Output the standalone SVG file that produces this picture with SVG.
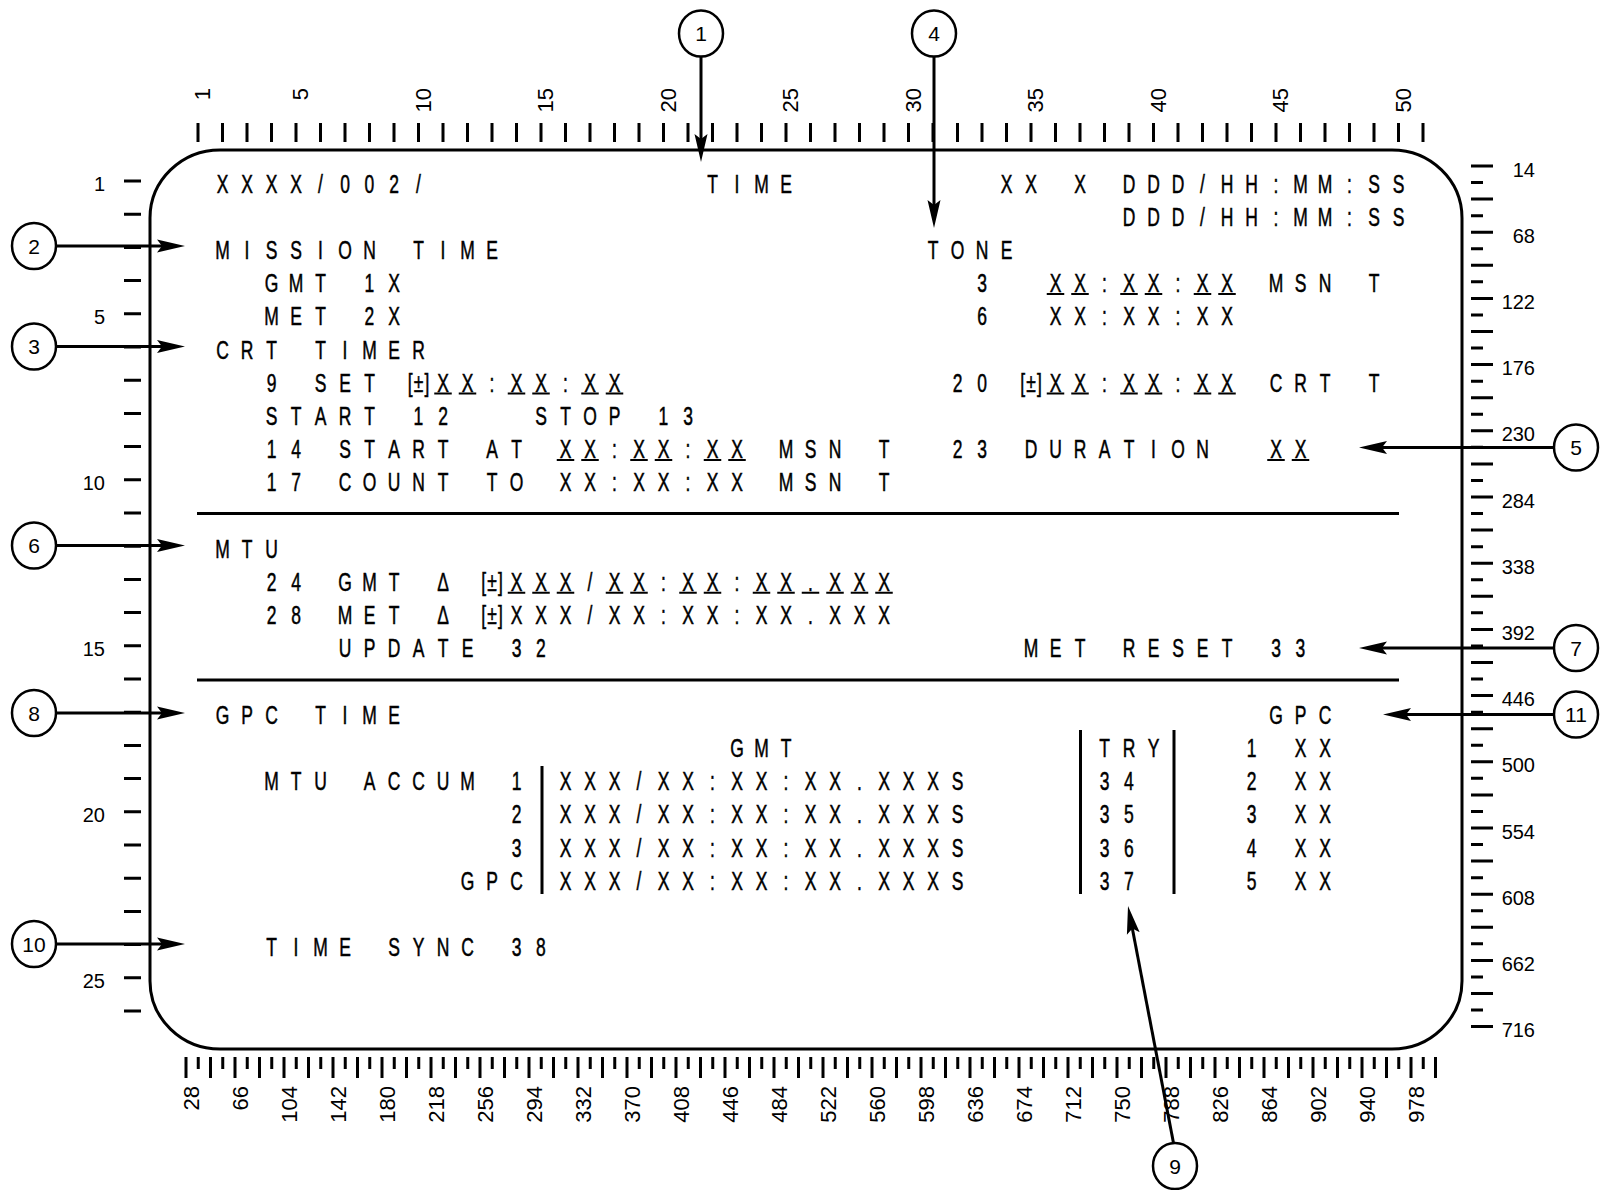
<svg xmlns="http://www.w3.org/2000/svg" width="1601" height="1190" viewBox="0 0 1601 1190">
<style>
.scr text{font-family:"Liberation Sans",Arial,Helvetica,sans-serif;font-size:25px;text-anchor:middle;fill:#000;stroke:#000;stroke-width:0.5}
.lbl{font-family:"Liberation Sans",Arial,Helvetica,sans-serif;font-size:20px;fill:#000}
.rot{font-family:"Liberation Sans",Arial,Helvetica,sans-serif;font-size:22px;fill:#000;text-anchor:end}
.num{font-family:"Liberation Sans",Arial,Helvetica,sans-serif;font-size:21px;fill:#000;text-anchor:middle}
.ln{stroke:#000;stroke-width:3;fill:none}
.ul{stroke:#000;stroke-width:2;fill:none}
.con{stroke:#000;stroke-width:3;fill:none;marker-end:url(#ah)}
.cir{stroke:#000;stroke-width:2.5;fill:#fff}
</style>
<defs>
<marker id="ah" viewBox="0 0 28 14" refX="18" refY="7" markerWidth="28" markerHeight="14" markerUnits="userSpaceOnUse" orient="auto">
<path d="M0,0.5 L28,7 L0,13.5 L5,7 Z" fill="#000"/>
</marker>
</defs>
<rect width="1601" height="1190" fill="#fff"/>
<g id="screen">
<rect class="ln" x="150" y="150" width="1312" height="899" rx="70" ry="68"/>
<path class="ln" d="M197 513.5H1399M197 680H1399M542 766V894M1080.5 730V894M1174 730V894"/>
<g id="ruler-top">
<path class="ln" d="M198 123V142M222.5 123V142M247 123V142M271.5 123V142M296 123V142M320.5 123V142M345 123V142M369.5 123V142M394 123V142M418.5 123V142M443 123V142M467.5 123V142M492 123V142M516.5 123V142M541 123V142M565.5 123V142M590 123V142M614.5 123V142M639 123V142M663.5 123V142M688 123V142M712.5 123V142M737 123V142M761.5 123V142M786 123V142M810.5 123V142M835 123V142M859.5 123V142M884 123V142M908.5 123V142M933 123V142M957.5 123V142M982 123V142M1006.5 123V142M1031 123V142M1055.5 123V142M1080 123V142M1104.5 123V142M1129 123V142M1153.5 123V142M1178 123V142M1202.5 123V142M1227 123V142M1251.5 123V142M1276 123V142M1300.5 123V142M1325 123V142M1349.5 123V142M1374 123V142M1398.5 123V142M1423 123V142"/>
<text class="rot" transform="translate(210 88) rotate(-90)">1</text>
<text class="rot" transform="translate(308 88) rotate(-90)">5</text>
<text class="rot" transform="translate(430.5 88) rotate(-90)">10</text>
<text class="rot" transform="translate(553 88) rotate(-90)">15</text>
<text class="rot" transform="translate(675.5 88) rotate(-90)">20</text>
<text class="rot" transform="translate(798 88) rotate(-90)">25</text>
<text class="rot" transform="translate(920.5 88) rotate(-90)">30</text>
<text class="rot" transform="translate(1043 88) rotate(-90)">35</text>
<text class="rot" transform="translate(1165.5 88) rotate(-90)">40</text>
<text class="rot" transform="translate(1288 88) rotate(-90)">45</text>
<text class="rot" transform="translate(1410.5 88) rotate(-90)">50</text>
</g>
<g id="ruler-left">
<path class="ln" d="M124 181H141M124 214.2H141M124 247.4H141M124 280.6H141M124 313.8H141M124 347H141M124 380.2H141M124 413.4H141M124 446.6H141M124 479.8H141M124 513H141M124 546.2H141M124 579.4H141M124 612.6H141M124 645.8H141M124 679H141M124 712.2H141M124 745.4H141M124 778.6H141M124 811.8H141M124 845H141M124 878.2H141M124 911.4H141M124 944.6H141M124 977.8H141M124 1011H141"/>
<text class="lbl" text-anchor="end" x="105" y="191">1</text>
<text class="lbl" text-anchor="end" x="105" y="323.8">5</text>
<text class="lbl" text-anchor="end" x="105" y="489.8">10</text>
<text class="lbl" text-anchor="end" x="105" y="655.8">15</text>
<text class="lbl" text-anchor="end" x="105" y="821.8">20</text>
<text class="lbl" text-anchor="end" x="105" y="987.8">25</text>
</g>
<g id="ruler-right">
<path class="ln" d="M1471 166H1493M1471 199.1H1493M1471 232.2H1493M1471 265.3H1493M1471 298.4H1493M1471 331.5H1493M1471 364.6H1493M1471 397.7H1493M1471 430.8H1493M1471 463.9H1493M1471 497H1493M1471 530.1H1493M1471 563.2H1493M1471 596.3H1493M1471 629.4H1493M1471 662.5H1493M1471 695.6H1493M1471 728.7H1493M1471 761.8H1493M1471 794.9H1493M1471 828H1493M1471 861.1H1493M1471 894.2H1493M1471 927.3H1493M1471 960.4H1493M1471 993.5H1493M1471 1026.6H1493"/>
<path class="ln" d="M1471 182.55H1483M1471 215.65H1483M1471 248.75H1483M1471 281.85H1483M1471 314.95H1483M1471 348.05H1483M1471 381.15H1483M1471 414.25H1483M1471 447.35H1483M1471 480.45H1483M1471 513.55H1483M1471 546.65H1483M1471 579.75H1483M1471 612.85H1483M1471 645.95H1483M1471 679.05H1483M1471 712.15H1483M1471 745.25H1483M1471 778.35H1483M1471 811.45H1483M1471 844.55H1483M1471 877.65H1483M1471 910.75H1483M1471 943.85H1483M1471 976.95H1483M1471 1010.05H1483"/>
<text class="lbl" text-anchor="end" x="1535" y="176.5">14</text>
<text class="lbl" text-anchor="end" x="1535" y="242.7">68</text>
<text class="lbl" text-anchor="end" x="1535" y="308.9">122</text>
<text class="lbl" text-anchor="end" x="1535" y="375.1">176</text>
<text class="lbl" text-anchor="end" x="1535" y="441.3">230</text>
<text class="lbl" text-anchor="end" x="1535" y="507.5">284</text>
<text class="lbl" text-anchor="end" x="1535" y="573.7">338</text>
<text class="lbl" text-anchor="end" x="1535" y="639.9">392</text>
<text class="lbl" text-anchor="end" x="1535" y="706.1">446</text>
<text class="lbl" text-anchor="end" x="1535" y="772.3">500</text>
<text class="lbl" text-anchor="end" x="1535" y="838.5">554</text>
<text class="lbl" text-anchor="end" x="1535" y="904.7">608</text>
<text class="lbl" text-anchor="end" x="1535" y="970.9">662</text>
<text class="lbl" text-anchor="end" x="1535" y="1037.1">716</text>
</g>
<g id="ruler-bottom">
<path class="ln" d="M186 1057V1078M210.5 1057V1078M235 1057V1078M259.5 1057V1078M284 1057V1078M308.5 1057V1078M333 1057V1078M357.5 1057V1078M382 1057V1078M406.5 1057V1078M431 1057V1078M455.5 1057V1078M480 1057V1078M504.5 1057V1078M529 1057V1078M553.5 1057V1078M578 1057V1078M602.5 1057V1078M627 1057V1078M651.5 1057V1078M676 1057V1078M700.5 1057V1078M725 1057V1078M749.5 1057V1078M774 1057V1078M798.5 1057V1078M823 1057V1078M847.5 1057V1078M872 1057V1078M896.5 1057V1078M921 1057V1078M945.5 1057V1078M970 1057V1078M994.5 1057V1078M1019 1057V1078M1043.5 1057V1078M1068 1057V1078M1092.5 1057V1078M1117 1057V1078M1141.5 1057V1078M1166 1057V1078M1190.5 1057V1078M1215 1057V1078M1239.5 1057V1078M1264 1057V1078M1288.5 1057V1078M1313 1057V1078M1337.5 1057V1078M1362 1057V1078M1386.5 1057V1078M1411 1057V1078M1435.5 1057V1078"/>
<path class="ln" d="M198.25 1057V1069M222.75 1057V1069M247.25 1057V1069M271.75 1057V1069M296.25 1057V1069M320.75 1057V1069M345.25 1057V1069M369.75 1057V1069M394.25 1057V1069M418.75 1057V1069M443.25 1057V1069M467.75 1057V1069M492.25 1057V1069M516.75 1057V1069M541.25 1057V1069M565.75 1057V1069M590.25 1057V1069M614.75 1057V1069M639.25 1057V1069M663.75 1057V1069M688.25 1057V1069M712.75 1057V1069M737.25 1057V1069M761.75 1057V1069M786.25 1057V1069M810.75 1057V1069M835.25 1057V1069M859.75 1057V1069M884.25 1057V1069M908.75 1057V1069M933.25 1057V1069M957.75 1057V1069M982.25 1057V1069M1006.75 1057V1069M1031.25 1057V1069M1055.75 1057V1069M1080.25 1057V1069M1104.75 1057V1069M1129.25 1057V1069M1153.75 1057V1069M1178.25 1057V1069M1202.75 1057V1069M1227.25 1057V1069M1251.75 1057V1069M1276.25 1057V1069M1300.75 1057V1069M1325.25 1057V1069M1349.75 1057V1069M1374.25 1057V1069M1398.75 1057V1069M1423.25 1057V1069"/>
<text class="rot" transform="translate(198.5 1086) rotate(-90)">28</text>
<text class="rot" transform="translate(247.5 1086) rotate(-90)">66</text>
<text class="rot" transform="translate(296.5 1086) rotate(-90)">104</text>
<text class="rot" transform="translate(345.5 1086) rotate(-90)">142</text>
<text class="rot" transform="translate(394.5 1086) rotate(-90)">180</text>
<text class="rot" transform="translate(443.5 1086) rotate(-90)">218</text>
<text class="rot" transform="translate(492.5 1086) rotate(-90)">256</text>
<text class="rot" transform="translate(541.5 1086) rotate(-90)">294</text>
<text class="rot" transform="translate(590.5 1086) rotate(-90)">332</text>
<text class="rot" transform="translate(639.5 1086) rotate(-90)">370</text>
<text class="rot" transform="translate(688.5 1086) rotate(-90)">408</text>
<text class="rot" transform="translate(737.5 1086) rotate(-90)">446</text>
<text class="rot" transform="translate(786.5 1086) rotate(-90)">484</text>
<text class="rot" transform="translate(835.5 1086) rotate(-90)">522</text>
<text class="rot" transform="translate(884.5 1086) rotate(-90)">560</text>
<text class="rot" transform="translate(933.5 1086) rotate(-90)">598</text>
<text class="rot" transform="translate(982.5 1086) rotate(-90)">636</text>
<text class="rot" transform="translate(1031.5 1086) rotate(-90)">674</text>
<text class="rot" transform="translate(1080.5 1086) rotate(-90)">712</text>
<text class="rot" transform="translate(1129.5 1086) rotate(-90)">750</text>
<text class="rot" transform="translate(1178.5 1086) rotate(-90)">788</text>
<text class="rot" transform="translate(1227.5 1086) rotate(-90)">826</text>
<text class="rot" transform="translate(1276.5 1086) rotate(-90)">864</text>
<text class="rot" transform="translate(1325.5 1086) rotate(-90)">902</text>
<text class="rot" transform="translate(1374.5 1086) rotate(-90)">940</text>
<text class="rot" transform="translate(1423.5 1086) rotate(-90)">978</text>
</g>
<g class="scr" transform="translate(198 0) scale(0.7 1)">
<text x="35 70 105 140 175 210 245 280 315" y="192.6">XXXX/002/</text>
<text x="735 770 805 840" y="192.6">TIME</text>
<text x="1155 1190 1225 1260 1295 1330 1365 1400 1435 1470 1505 1540 1575 1610 1645 1680 1715" y="192.6">XX X DDD/HH:MM:SS</text>
<text x="1330 1365 1400 1435 1470 1505 1540 1575 1610 1645 1680 1715" y="225.8">DDD/HH:MM:SS</text>
<text x="35 70 105 140 175 210 245 280 315 350 385 420" y="259">MISSION TIME</text>
<text x="1050 1085 1120 1155" y="259">TONE</text>
<text x="105 140 175 210 245 280" y="292.2">GMT 1X</text>
<text x="1120" y="292.2">3</text>
<text x="1225 1260 1295 1330 1365 1400 1435 1470" y="292.2">XX:XX:XX</text>
<text x="1540 1575 1610 1645 1680" y="292.2">MSN T</text>
<text x="105 140 175 210 245 280" y="325.4">MET 2X</text>
<text x="1120" y="325.4">6</text>
<text x="1225 1260 1295 1330 1365 1400 1435 1470" y="325.4">XX:XX:XX</text>
<text x="35 70 105 140 175 210 245 280 315" y="358.6">CRT TIMER</text>
<text x="105 140 175 210 245" y="391.8">9 SET</text>
<text x="303 315 327" y="391.8">[±]</text>
<text x="350 385 420 455 490 525 560 595" y="391.8">XX:XX:XX</text>
<text x="1085 1120" y="391.8">20</text>
<text x="1178 1190 1202" y="391.8">[±]</text>
<text x="1225 1260 1295 1330 1365 1400 1435 1470" y="391.8">XX:XX:XX</text>
<text x="1540 1575 1610 1645 1680" y="391.8">CRT T</text>
<text x="105 140 175 210 245 280 315 350" y="425">START 12</text>
<text x="490 525 560 595 630 665 700" y="425">STOP 13</text>
<text x="105 140 175 210 245 280 315 350 385 420 455 490 525 560 595 630 665 700 735 770 805 840 875 910 945 980" y="458.2">14 START AT XX:XX:XX MSN T</text>
<text x="1085 1120 1155 1190 1225 1260 1295 1330 1365 1400 1435" y="458.2">23 DURATION</text>
<text x="1540 1575" y="458.2">XX</text>
<text x="105 140 175 210 245 280 315 350 385 420 455 490 525 560 595 630 665 700 735 770 805 840 875 910 945 980" y="491.4">17 COUNT TO XX:XX:XX MSN T</text>
<text x="35 70 105" y="557.8">MTU</text>
<text x="105 140 175 210 245 280" y="591">24 GMT</text>
<text x="350" y="591">Δ</text>
<text x="408 420 432" y="591">[±]</text>
<text x="455 490 525 560 595 630 665 700 735 770 805 840 875 910 945 980" y="591">XXX/XX:XX:XX.XXX</text>
<text x="105 140 175 210 245 280" y="624.2">28 MET</text>
<text x="350" y="624.2">Δ</text>
<text x="408 420 432" y="624.2">[±]</text>
<text x="455 490 525 560 595 630 665 700 735 770 805 840 875 910 945 980" y="624.2">XXX/XX:XX:XX.XXX</text>
<text x="210 245 280 315 350 385 420 455 490" y="657.4">UPDATE 32</text>
<text x="1190 1225 1260 1295 1330 1365 1400 1435 1470 1505 1540 1575" y="657.4">MET RESET 33</text>
<text x="35 70 105 140 175 210 245 280" y="723.8">GPC TIME</text>
<text x="1540 1575 1610" y="723.8">GPC</text>
<text x="770 805 840" y="757">GMT</text>
<text x="1295 1330 1365" y="757">TRY</text>
<text x="1505 1540 1575 1610" y="757">1 XX</text>
<text x="105 140 175 210 245 280 315 350 385 420 455" y="790.2">MTU ACCUM 1</text>
<text x="525 560 595 630 665 700 735 770 805 840 875 910 945 980 1015 1050 1085" y="790.2">XXX/XX:XX:XX.XXXS</text>
<text x="1295 1330" y="790.2">34</text>
<text x="1505 1540 1575 1610" y="790.2">2 XX</text>
<text x="455" y="823.4">2</text>
<text x="525 560 595 630 665 700 735 770 805 840 875 910 945 980 1015 1050 1085" y="823.4">XXX/XX:XX:XX.XXXS</text>
<text x="1295 1330" y="823.4">35</text>
<text x="1505 1540 1575 1610" y="823.4">3 XX</text>
<text x="455" y="856.6">3</text>
<text x="525 560 595 630 665 700 735 770 805 840 875 910 945 980 1015 1050 1085" y="856.6">XXX/XX:XX:XX.XXXS</text>
<text x="1295 1330" y="856.6">36</text>
<text x="1505 1540 1575 1610" y="856.6">4 XX</text>
<text x="385 420 455" y="889.8">GPC</text>
<text x="525 560 595 630 665 700 735 770 805 840 875 910 945 980 1015 1050 1085" y="889.8">XXX/XX:XX:XX.XXXS</text>
<text x="1295 1330" y="889.8">37</text>
<text x="1505 1540 1575 1610" y="889.8">5 XX</text>
<text x="105 140 175 210 245 280 315 350 385 420 455 490" y="956.2">TIME SYNC 38</text>
<path class="ul" d="M1212.5 294H1237.5M1247.5 294H1272.5M1317.5 294H1342.5M1352.5 294H1377.5M1422.5 294H1447.5M1457.5 294H1482.5
M337.5 393.5H362.5M372.5 393.5H397.5M442.5 393.5H467.5M477.5 393.5H502.5M547.5 393.5H572.5M582.5 393.5H607.5
M1212.5 393.5H1237.5M1247.5 393.5H1272.5M1317.5 393.5H1342.5M1352.5 393.5H1377.5M1422.5 393.5H1447.5M1457.5 393.5H1482.5
M512.5 460H537.5M547.5 460H572.5M617.5 460H642.5M652.5 460H677.5M722.5 460H747.5M757.5 460H782.5M1527.5 460H1552.5M1562.5 460H1587.5
M442.5 592.7H467.5M477.5 592.7H502.5M512.5 592.7H537.5M582.5 592.7H607.5M617.5 592.7H642.5M687.5 592.7H712.5M722.5 592.7H747.5M792.5 592.7H817.5M827.5 592.7H852.5M862.5 592.7H887.5M897.5 592.7H922.5M932.5 592.7H957.5M967.5 592.7H992.5"/>
</g>
</g>
<g id="connectors">
<line class="con" x1="701" y1="57" x2="701" y2="152"/>
<line class="con" x1="934" y1="57" x2="934" y2="218"/>
<line class="con" x1="56" y1="246" x2="175" y2="246"/>
<line class="con" x1="56" y1="346.5" x2="175" y2="346.5"/>
<line class="con" x1="56" y1="545.5" x2="175" y2="545.5"/>
<line class="con" x1="56" y1="713" x2="175" y2="713"/>
<line class="con" x1="56" y1="944" x2="175" y2="944"/>
<line class="con" x1="1554" y1="447.5" x2="1369" y2="447.5"/>
<line class="con" x1="1554" y1="648" x2="1369" y2="648"/>
<line class="con" x1="1554" y1="714.5" x2="1393" y2="714.5"/>
<line class="con" x1="1173.5" y1="1143" x2="1129.9" y2="915.8"/>
</g>
<g id="callout-1"><ellipse class="cir" cx="701" cy="33.5" rx="22" ry="23"/><text class="num" x="701" y="41">1</text></g>
<g id="callout-2"><ellipse class="cir" cx="34" cy="246" rx="22" ry="23"/><text class="num" x="34" y="253.5">2</text></g>
<g id="callout-3"><ellipse class="cir" cx="34" cy="346.5" rx="22" ry="23"/><text class="num" x="34" y="354">3</text></g>
<g id="callout-4"><ellipse class="cir" cx="934" cy="33.5" rx="22" ry="23"/><text class="num" x="934" y="41">4</text></g>
<g id="callout-5"><ellipse class="cir" cx="1576" cy="447.5" rx="22" ry="23"/><text class="num" x="1576" y="455">5</text></g>
<g id="callout-6"><ellipse class="cir" cx="34" cy="545.5" rx="22" ry="23"/><text class="num" x="34" y="553">6</text></g>
<g id="callout-7"><ellipse class="cir" cx="1576" cy="648" rx="22" ry="23"/><text class="num" x="1576" y="655.5">7</text></g>
<g id="callout-8"><ellipse class="cir" cx="34" cy="713" rx="22" ry="23"/><text class="num" x="34" y="720.5">8</text></g>
<g id="callout-9"><ellipse class="cir" cx="1175" cy="1166" rx="22" ry="23"/><text class="num" x="1175" y="1173.5">9</text></g>
<g id="callout-10"><ellipse class="cir" cx="34" cy="944" rx="22" ry="23"/><text class="num" x="34" y="951.5">10</text></g>
<g id="callout-11"><ellipse class="cir" cx="1576" cy="714.5" rx="22" ry="23"/><text class="num" x="1576" y="722">11</text></g>
</svg>
